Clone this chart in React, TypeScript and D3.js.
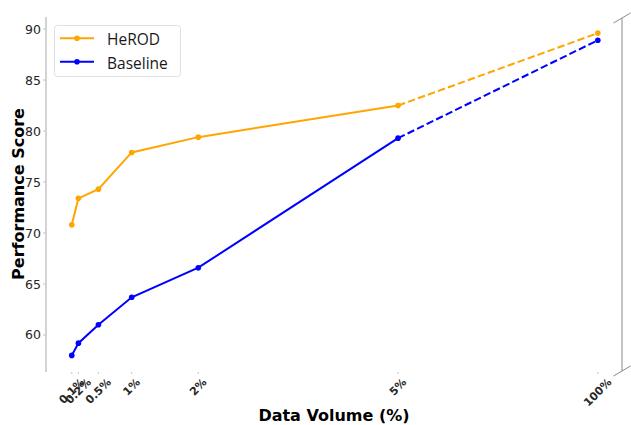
import React, { useEffect, useRef } from 'react';
import * as d3 from 'd3';

// data volume (%) and scores
const volumes = [0.1, 0.2, 0.5, 1, 2, 5, 100];
const volumeLabels = ['0.1%', '0.2%', '0.5%', '1%', '2%', '5%', '100%'];
const herod = [70.8, 73.4, 74.3, 77.9, 79.4, 82.5, 89.6];
const baseline = [58.0, 59.2, 61.0, 63.7, 66.6, 79.3, 88.9];
const yTicks = [60, 65, 70, 75, 80, 85, 90];

const series = [
  { name: 'HeROD', values: herod, color: '#FFA500' },
  { name: 'Baseline', values: baseline, color: '#0000FF' },
];

const W = 631;
const H = 425;

// broken x axis: 100% sits right after the 0-5% part
const pos = (v: number) => (v <= 5 ? v : 8);

export default function App() {
  const ref = useRef<SVGSVGElement>(null);

  useEffect(() => {
    const svg = d3.select(ref.current);
    svg.selectAll('*').remove();

    const x = d3.scaleLinear().domain([-0.287, 8.363]).range([46, 622]);
    const y = d3.scaleLinear().domain([56.47, 91.18]).range([371, 17]);
    const font = 'DejaVu Sans, sans-serif';

    // left spine
    svg.append('line')
      .attr('x1', 46).attr('x2', 46).attr('y1', 17).attr('y2', 372)
      .attr('stroke', '#c4c4c4').attr('stroke-width', 1.5);

    // right spine with break marks
    svg.append('line')
      .attr('x1', 622).attr('x2', 622).attr('y1', 18).attr('y2', 371)
      .attr('stroke', '#8a8a8a').attr('stroke-width', 1);
    [18, 371].forEach(yy => {
      svg.append('line')
        .attr('x1', 622 - 8.5).attr('y1', yy + 5)
        .attr('x2', 622 + 8.5).attr('y2', yy - 5)
        .attr('stroke', '#8a8a8a').attr('stroke-width', 1);
    });

    // y ticks
    const yt = svg.append('g');
    yTicks.forEach(t => {
      yt.append('line')
        .attr('x1', 43).attr('x2', 46).attr('y1', y(t)).attr('y2', y(t))
        .attr('stroke', '#c4c4c4').attr('stroke-width', 1);
      yt.append('text')
        .attr('x', 41).attr('y', y(t))
        .attr('text-anchor', 'end').attr('dominant-baseline', 'central')
        .attr('font-family', font).attr('font-size', 12.5).attr('fill', '#262626')
        .text(t);
    });

    // x ticks
    const xt = svg.append('g');
    volumes.forEach((v, i) => {
      const px = x(pos(v));
      xt.append('line')
        .attr('x1', px).attr('x2', px).attr('y1', 372).attr('y2', 374)
        .attr('stroke', '#c4c4c4').attr('stroke-width', 1);
      const txt = xt.append('text')
        .attr('font-family', font).attr('font-size', 11).attr('font-weight', 'bold')
        .attr('fill', '#262626')
        .attr('text-anchor', 'middle').attr('dominant-baseline', 'central')
        .text(volumeLabels[i]);
      const L = (txt.node() as SVGTextElement).getComputedTextLength();
      const h = 11 * 1.17;
      const cy = 376 + (L + h) / (2 * Math.SQRT2);
      txt.attr('transform', `translate(${px},${cy}) rotate(-45)`);
    });

    // axis titles
    svg.append('text')
      .attr('x', 334).attr('y', 421)
      .attr('text-anchor', 'middle')
      .attr('font-family', font).attr('font-size', 16).attr('font-weight', 'bold')
      .text('Data Volume (%)');
    svg.append('text')
      .attr('transform', `translate(18,194) rotate(-90)`)
      .attr('text-anchor', 'middle').attr('dominant-baseline', 'central')
      .attr('font-family', font).attr('font-size', 16).attr('font-weight', 'bold')
      .text('Performance Score');

    // lines: solid up to 5%, dashed to 100%
    const line = d3.line<number>()
      .x((_, i) => x(pos(volumes[i])))
      .y(d => y(d));
    series.forEach(s => {
      const g = svg.append('g');
      const solidIdx = volumes.map((_, i) => i).filter(i => volumes[i] <= 5);
      const lastSolid = solidIdx[solidIdx.length - 1];
      g.append('path')
        .attr('d', d3.line<number>()
          .x(i => x(pos(volumes[i])))
          .y(i => y(s.values[i]))(solidIdx))
        .attr('fill', 'none').attr('stroke', s.color).attr('stroke-width', 2);
      g.append('path')
        .attr('d', d3.line<number>()
          .x(i => x(pos(volumes[i])))
          .y(i => y(s.values[i]))([lastSolid, volumes.length - 1]))
        .attr('fill', 'none').attr('stroke', s.color).attr('stroke-width', 2)
        .attr('stroke-dasharray', '7.4,3.2');
      g.selectAll('circle').data(s.values).enter().append('circle')
        .attr('cx', (_, i) => x(pos(volumes[i])))
        .attr('cy', d => y(d))
        .attr('r', 2.8)
        .attr('fill', s.color);
    });
    void line;

    // legend
    const lg = svg.append('g');
    lg.append('rect')
      .attr('x', 54.5).attr('y', 25.5).attr('width', 126).attr('height', 51)
      .attr('rx', 3).attr('fill', 'white').attr('fill-opacity', 0.8)
      .attr('stroke', '#e0e0e0').attr('stroke-width', 1);
    series.forEach((s, i) => {
      const ly = 38.3 + i * 23.4;
      lg.append('line')
        .attr('x1', 60).attr('x2', 94).attr('y1', ly).attr('y2', ly)
        .attr('stroke', s.color).attr('stroke-width', 2);
      lg.append('circle').attr('cx', 77).attr('cy', ly).attr('r', 2.8).attr('fill', s.color);
      lg.append('text')
        .attr('x', 107).attr('y', ly + 1)
        .attr('dominant-baseline', 'central')
        .attr('font-family', 'Open Sans, sans-serif').attr('font-size', 15.5)
        .attr('fill', '#1a1a1a')
        .text(s.name);
    });
  }, []);

  return (
    <svg ref={ref} width={W} height={H} style={{ position: 'absolute', left: 0, top: 0 }} />
  );
}
